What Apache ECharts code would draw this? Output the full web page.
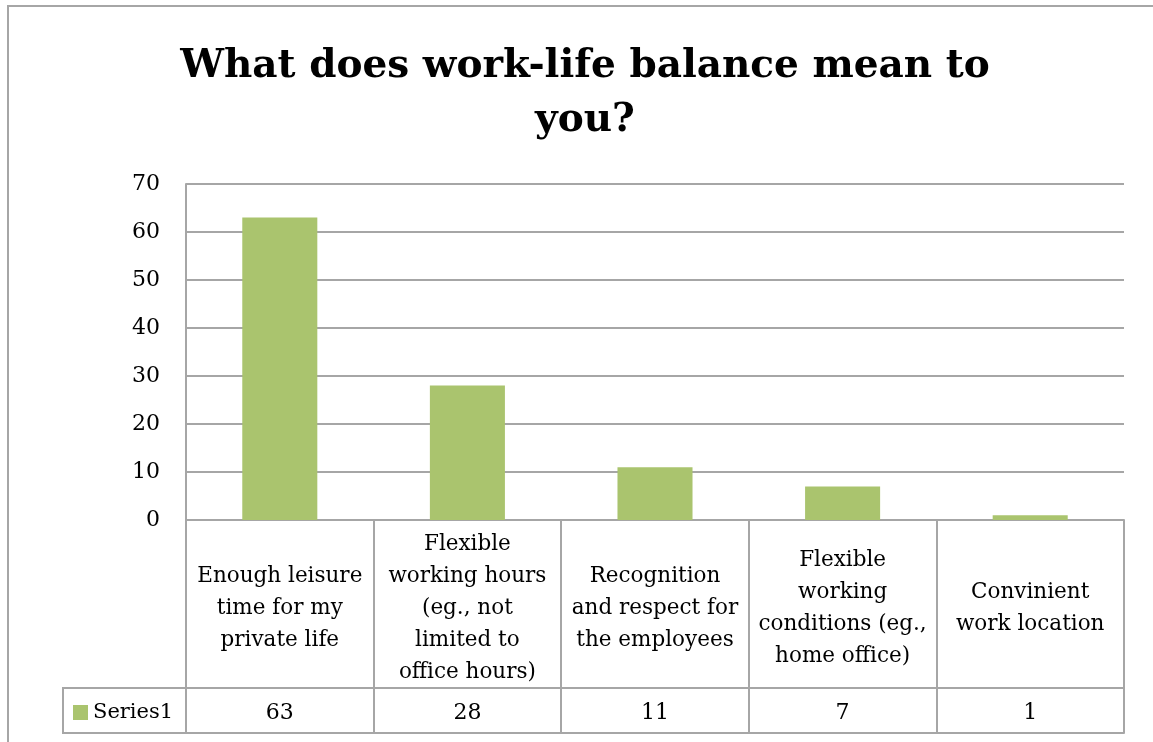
<!DOCTYPE html>
<html>
<head>
<meta charset="utf-8">
<script src="https://cdn.jsdelivr.net/npm/echarts@6/dist/echarts.min.js"></script>
<style>
  html, body { margin: 0; padding: 0; background: #fff; }
  #frame { position: absolute; left: 7px; top: 5px; width: 1146px; height: 737px;
           border-left: 2px solid #a6a6a6; border-top: 2px solid #a6a6a6; }
  #chart { position: absolute; left: 0; top: 0; width: 1153px; height: 742px; }
</style>
</head>
<body>
<div id="frame"></div>
<div id="chart"></div>
<script>
// ---- data ----
var titleText = 'What does work-life balance mean to\nyou?';
var seriesName = 'Series1';
var categories = [
  'Enough leisure\ntime for my\nprivate life',
  'Flexible\nworking hours\n(eg., not\nlimited to\noffice hours)',
  'Recognition\nand respect for\nthe employees',
  'Flexible\nworking\nconditions (eg.,\nhome office)',
  'Convinient\nwork location'
];
var values = [63, 28, 11, 7, 1];
var yTicks = { min: 0, max: 70, interval: 10 };

// ---- styling ----
var FONT = 'DejaVu Serif';
var LINE = '#a6a6a6';
var GREEN = '#aac46e';

var chart = echarts.init(document.getElementById('chart'));
chart.setOption({
  backgroundColor: 'transparent',
  animation: false,
  title: {
    text: titleText,
    left: 580,
    top: 35,
    textAlign: 'center',
    textStyle: { fontFamily: FONT, fontWeight: 'bold', fontSize: 39, lineHeight: 54, color: '#000' }
  },
  legend: {
    data: [seriesName],
    left: 63,
    top: 688,
    icon: 'rect',
    itemWidth: 15,
    itemHeight: 15,
    padding: [14, 10, 10, 10],
    borderColor: LINE,
    borderWidth: 2,
    textStyle: { fontFamily: FONT, fontSize: 21, lineHeight: 21, color: '#000', width: 83 }
  },
  grid: { left: 186, right: 29, top: 184, bottom: 222, containLabel: false },
  yAxis: {
    type: 'value',
    min: yTicks.min, max: yTicks.max, interval: yTicks.interval,
    axisLine: { show: true, lineStyle: { color: LINE, width: 2 } },
    axisTick: { show: false },
    splitLine: { show: true, lineStyle: { color: LINE, width: 2 } },
    axisLabel: { margin: 26, verticalAlign: 'middle', padding: [8, 0, 0, 0], fontFamily: FONT, fontSize: 22, color: '#000' }
  },
  xAxis: [
    {
      type: 'category',
      data: categories,
      position: 'bottom',
      axisLine: { show: true, lineStyle: { color: LINE, width: 2 } },
      axisTick: { show: true, interval: 0, length: 213, lineStyle: { color: LINE, width: 2 } },
      axisLabel: { interval: 0, margin: 88, verticalAlign: 'middle', fontFamily: FONT, fontSize: 21.5, lineHeight: 32, color: '#000' }
    },
    {
      type: 'category',
      data: values.map(function (v) { return String(v); }),
      position: 'bottom',
      offset: 168,
      axisLine: { show: true, lineStyle: { color: LINE, width: 2 } },
      axisTick: { show: false },
      axisLabel: { interval: 0, margin: 25, verticalAlign: 'middle', fontFamily: FONT, fontSize: 22, color: '#000' }
    },
    {
      type: 'category',
      data: categories.map(function () { return ''; }),
      position: 'bottom',
      offset: 213,
      axisLine: { show: true, lineStyle: { color: LINE, width: 2 } },
      axisTick: { show: false },
      axisLabel: { show: false }
    }
  ],
  series: [{
    name: seriesName,
    type: 'bar',
    xAxisIndex: 0,
    data: values,
    barWidth: '40%',
    itemStyle: { color: GREEN }
  }]
});
</script>
</body>
</html>
